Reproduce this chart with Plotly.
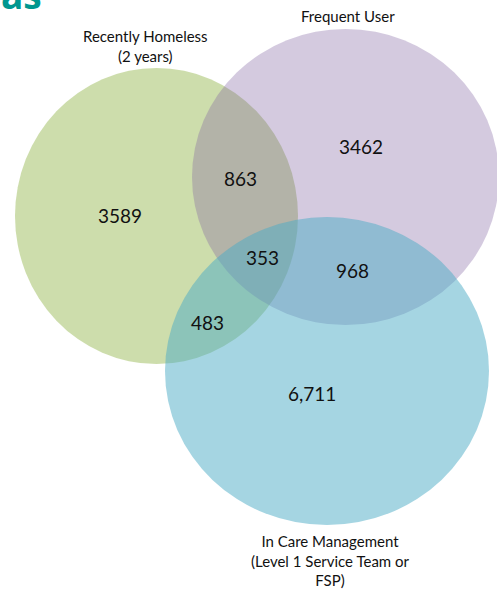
import plotly.graph_objects as go

# ---- data ----
set_names = ["Recently Homeless<br>(2 years)", "Frequent User",
             "In Care Management<br>(Level 1 Service Team or<br>FSP)"]
region_labels = ["Homeless only", "Homeless & Frequent", "Frequent only",
                 "All three", "Frequent & Care", "Homeless & Care", "Care only"]
region_values = ["3589", "863", "3462", "353", "968", "483", "6,711"]

# ---- layout (pixel coordinates) ----
W, H = 497, 589
circles = [  # (x0, y0, x1, y1), fill, opacity
    ((15, 68, 298, 364), "rgb(155,187,89)", 0.5),
    ((192, 29, 499, 325), "rgb(128,100,162)", 0.34),
    ((165, 217, 489, 525), "rgb(75,172,198)", 0.5),
]
region_pos = [(120, 215), (240, 178), (361, 146), (262, 257),
              (352, 270), (207, 322), (312, 393)]
set_label_pos = [(145, 46), (348, 16), (330, 560)]

fig = go.Figure()
fig.add_trace(go.Scatter(x=[0, W], y=[0, H], mode="markers",
                         marker=dict(opacity=0), hoverinfo="skip",
                         showlegend=False))

for (x0, y0, x1, y1), col, op in circles:
    fig.add_shape(type="circle", xref="x", yref="y", x0=x0, y0=y0, x1=x1, y1=y1,
                  fillcolor=col, opacity=op, line=dict(width=0), layer="below")

font_family = "Lato, 'Open Sans', sans-serif"
for (x, y), v in zip(region_pos, region_values):
    fig.add_annotation(x=x, y=y, text=v, showarrow=False,
                       font=dict(family=font_family, size=19, color="#111"),
                       xanchor="center", yanchor="middle")

for (x, y), t in zip(set_label_pos, set_names):
    fig.add_annotation(x=x, y=y, text=t, showarrow=False,
                       font=dict(family=font_family, size=15, color="#111"),
                       xanchor="center", yanchor="middle")

# clipped title fragment at top-left
fig.add_annotation(x=0, y=21, text="<b>as</b>", showarrow=False,
                   font=dict(family="'Open Sans', sans-serif", size=37, color="#00978F"),
                   xanchor="left", yanchor="bottom", borderpad=0)

fig.update_layout(
    width=W, height=H, margin=dict(l=0, r=0, t=0, b=0),
    paper_bgcolor="white", plot_bgcolor="white",
    xaxis=dict(range=[0, W], visible=False, fixedrange=True),
    yaxis=dict(range=[H, 0], visible=False, fixedrange=True),
    showlegend=False,
)

fig.write_html("out.html", config={"displayModeBar": False},
               post_script="document.body.style.margin='0';document.body.style.overflow='hidden';")
